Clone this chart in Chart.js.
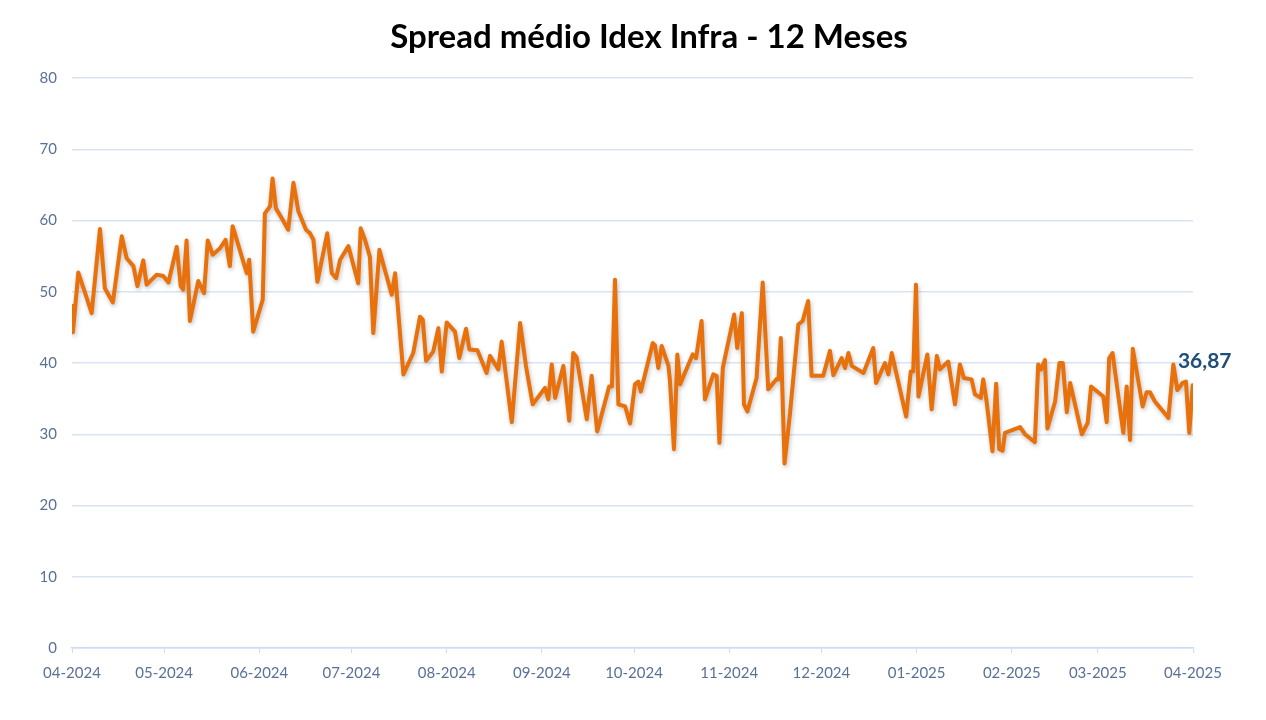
<!DOCTYPE html>
<html>
<head>
<meta charset="utf-8">
<script src="https://cdn.jsdelivr.net/npm/chart.js@4/dist/chart.umd.min.js"></script>
<style>
  html, body { margin: 0; padding: 0; background: #ffffff; }
  #wrap { width: 1266px; height: 720px; }
</style>
</head>
<body>
<div id="wrap"><canvas id="spreadChart"></canvas></div>
<script>
var chartTitle = "Spread médio Idex Infra - 12 Meses";

// days counted from 01-04-2024
var dayOffsets = [0, 0.3, 2.05, 3.9, 6.4, 9.1, 10.7, 13.3, 16.2, 17.8, 20.0, 21.3, 23.2, 24.3, 27.6, 29.7, 31.4, 34.1, 35.4, 36.2,
    37.3, 38.4, 41.1, 43.0, 44.2, 45.8, 48.2, 50.0, 51.4, 52.3, 56.9, 57.7, 59.0, 62.1, 62.8, 64.5, 65.3, 66.4, 68.6, 70.4,
    72.1, 73.7, 76.2, 77.5, 78.6, 79.9, 83.1, 84.6, 86.0, 87.3, 90.0, 93.2, 94.0, 95.4, 97.0, 98.1, 100.1, 101.4, 104.1, 105.2,
    107.9, 111.1, 113.3, 114.2, 115.3, 117.6, 119.3, 120.4, 122.0, 124.7, 126.1, 128.3, 129.4, 132.0, 135.0, 136.1, 138.8, 139.9, 143.2, 145.9,
    147.8, 150.0, 154.0, 155.1, 156.2, 157.3, 160.0, 161.9, 163.2, 164.3, 167.6, 169.2, 171.0, 174.9, 175.8, 176.8, 177.9, 180.1, 181.7, 183.3,
    184.4, 185.2, 189.1, 189.8, 190.9, 192.0, 194.2, 194.7, 196.0, 197.1, 198.0, 200.7, 202.1, 203.2, 205.0, 206.1, 208.8, 209.9, 210.8, 211.9,
    215.6, 216.6, 218.1, 218.8, 219.9, 222.9, 224.9, 226.7, 229.5, 230.0, 230.8, 232.0, 233.8, 236.5, 237.9, 239.7, 240.8, 244.6, 246.8, 247.9,
    250.6, 251.7, 252.8, 253.9, 257.7, 260.9, 261.8, 264.7, 265.8, 266.9, 271.6, 273.1, 273.9, 274.8, 275.6, 278.5, 279.9, 281.6, 282.6, 285.3,
    287.5, 289.1, 290.4, 292.9, 294.0, 295.9, 296.7, 297.8, 299.7, 300.9, 301.9, 303.0, 303.8, 308.7, 310.3, 313.5, 314.6, 315.5, 316.8, 317.6,
    320.1, 321.5, 322.6, 323.9, 325.0, 328.8, 330.7, 331.8, 335.8, 336.9, 337.7, 338.8, 342.3, 343.4, 344.5, 345.4, 348.6, 349.9, 351.0, 352.6,
    357.0, 358.6, 359.9, 361.6, 362.7, 363.8, 364.9];

var spreadValues = [48.0, 44.3, 52.7, 50.3, 47.0, 58.8, 50.5, 48.5, 57.8, 54.7, 53.6, 50.8, 54.4, 51.0, 52.4, 52.2, 51.3, 56.3, 50.8, 50.3,
    57.2, 45.9, 51.5, 49.8, 57.2, 55.2, 56.1, 57.3, 53.6, 59.2, 52.6, 54.5, 44.4, 48.9, 61.0, 62.0, 65.9, 61.7, 60.1, 58.7,
    65.3, 61.3, 58.7, 58.2, 57.3, 51.4, 58.2, 52.6, 51.9, 54.5, 56.4, 51.2, 58.9, 57.3, 54.9, 44.2, 55.9, 53.8, 49.6, 52.6,
    38.4, 41.4, 46.5, 46.1, 40.3, 41.6, 44.9, 38.8, 45.7, 44.4, 40.7, 44.8, 41.9, 41.8, 38.6, 41.0, 39.1, 43.0, 31.7, 45.6,
    39.6, 34.2, 36.5, 34.9, 39.8, 35.1, 39.6, 31.9, 41.4, 40.8, 32.1, 38.2, 30.4, 36.7, 36.7, 51.7, 34.2, 33.9, 31.5, 37.0,
    37.4, 36.0, 42.8, 42.5, 39.3, 42.4, 39.6, 37.5, 27.9, 41.2, 37.0, 39.8, 41.2, 40.7, 45.9, 34.9, 38.4, 38.2, 28.8, 39.3,
    46.8, 42.1, 47.0, 34.2, 33.2, 37.9, 51.3, 36.3, 37.8, 37.7, 43.5, 25.9, 33.0, 45.4, 45.9, 48.7, 38.2, 38.2, 41.7, 38.3,
    40.7, 39.3, 41.4, 39.6, 38.6, 42.1, 37.2, 40.0, 38.4, 41.4, 32.5, 38.8, 38.8, 51.0, 35.3, 41.2, 33.5, 41.0, 39.1, 40.2,
    34.2, 39.8, 37.9, 37.7, 35.6, 35.1, 37.7, 34.6, 27.6, 37.1, 27.9, 27.7, 30.2, 31.0, 30.0, 28.9, 39.8, 39.1, 40.4, 30.8,
    34.6, 40.0, 40.0, 33.1, 37.2, 30.0, 31.6, 36.7, 35.3, 31.7, 40.7, 41.4, 30.2, 36.7, 29.2, 42.0, 33.9, 35.9, 35.9, 34.6,
    32.3, 39.8, 36.2, 37.2, 37.4, 30.2, 36.87];

var monthDays = [0, 30, 61, 91, 122, 153, 183, 214, 244, 275, 306, 334, 365];
var monthLabels = ["04-2024", "05-2024", "06-2024", "07-2024", "08-2024", "09-2024", "10-2024",
                   "11-2024", "12-2024", "01-2025", "02-2025", "03-2025", "04-2025"];

var lineColor = "#e8710c";
var gridColor = "#dae3f3";
var tickColor = "#5a7196";

function buildPoints() {
    var pts = [];
    for (var i = 0; i < dayOffsets.length; i++) {
        pts.push({ x: dayOffsets[i], y: spreadValues[i] });
    }
    return pts;
}

// title is centred on the whole picture, not on the plot
var pageTitle = {
    id: "pageTitle",
    afterDraw: function(chart) {
        var ctx = chart.ctx;
        ctx.save();
        ctx.font = "bold 33px Lato";
        ctx.fillStyle = "#000000";
        ctx.textAlign = "center";
        ctx.textBaseline = "middle";
        ctx.fillText(chartTitle, 649, 37);
        ctx.restore();
    }
};

// label with the last value, like the original
var lastValueLabel = {
    id: "lastValueLabel",
    afterDatasetsDraw: function(chart) {
        var meta = chart.getDatasetMeta(0);
        var last = meta.data[meta.data.length - 1];
        var v = spreadValues[spreadValues.length - 1];
        var ctx = chart.ctx;
        ctx.save();
        ctx.font = "bold 21px Lato";
        ctx.fillStyle = "#1f4e79";
        ctx.textAlign = "center";
        ctx.textBaseline = "middle";
        ctx.fillText(v.toFixed(2).replace(".", ","), last.x + 12, last.y - 24);
        ctx.restore();
    }
};

// soft shadow under the line
var lineShadow = {
    id: "lineShadow",
    beforeDatasetDraw: function(chart) {
        var ctx = chart.ctx;
        ctx.save();
        ctx.shadowColor = "rgba(0,0,0,0.25)";
        ctx.shadowBlur = 4;
        ctx.shadowOffsetX = 1;
        ctx.shadowOffsetY = 2;
    },
    afterDatasetDraw: function(chart) {
        chart.ctx.restore();
    }
};

function makeLineChart() {
    var canvas = document.getElementById("spreadChart");
    new Chart(canvas, {
        type: "line",
        data: {
            datasets: [{
                label: "Spread médio",
                data: buildPoints(),
                borderColor: lineColor,
                borderWidth: 4,
                borderJoinStyle: "round",
                borderCapStyle: "round",
                pointRadius: 0,
                tension: 0,
                fill: false
            }]
        },
        options: {
            responsive: true,
            maintainAspectRatio: false,
            animation: false,
            layout: { padding: { left: 20, right: 73, top: 78, bottom: 27 } },
            plugins: {
                legend: { display: false },
                tooltip: { enabled: false },
                title: { display: false }
            },
            scales: {
                x: {
                    type: "linear",
                    min: 0,
                    max: 365,
                    afterBuildTicks: function(scale) {
                        scale.ticks = monthDays.map(function(d) { return { value: d }; });
                    },
                    ticks: {
                        color: tickColor,
                        font: { family: "Lato", size: 15 },
                        maxRotation: 0,
                        autoSkip: false,
                        padding: 11,
                        callback: function(value) {
                            var idx = monthDays.indexOf(value);
                            return idx >= 0 ? monthLabels[idx] : "";
                        }
                    },
                    grid: { drawOnChartArea: false, drawTicks: true, tickLength: 5, color: "#cfdbef" },
                    border: { color: "#cfdbef", width: 1.5 }
                },
                y: {
                    min: 0,
                    max: 80,
                    afterFit: function(scale) { scale.width = 52; },
                    ticks: {
                        stepSize: 10,
                        color: tickColor,
                        font: { family: "Lato", size: 15 },
                        padding: 15
                    },
                    grid: { color: gridColor, lineWidth: 1.5, drawTicks: false },
                    border: { display: false }
                }
            }
        },
        plugins: [lineShadow, lastValueLabel, pageTitle]
    });
}

makeLineChart();
</script>
</body>
</html>
